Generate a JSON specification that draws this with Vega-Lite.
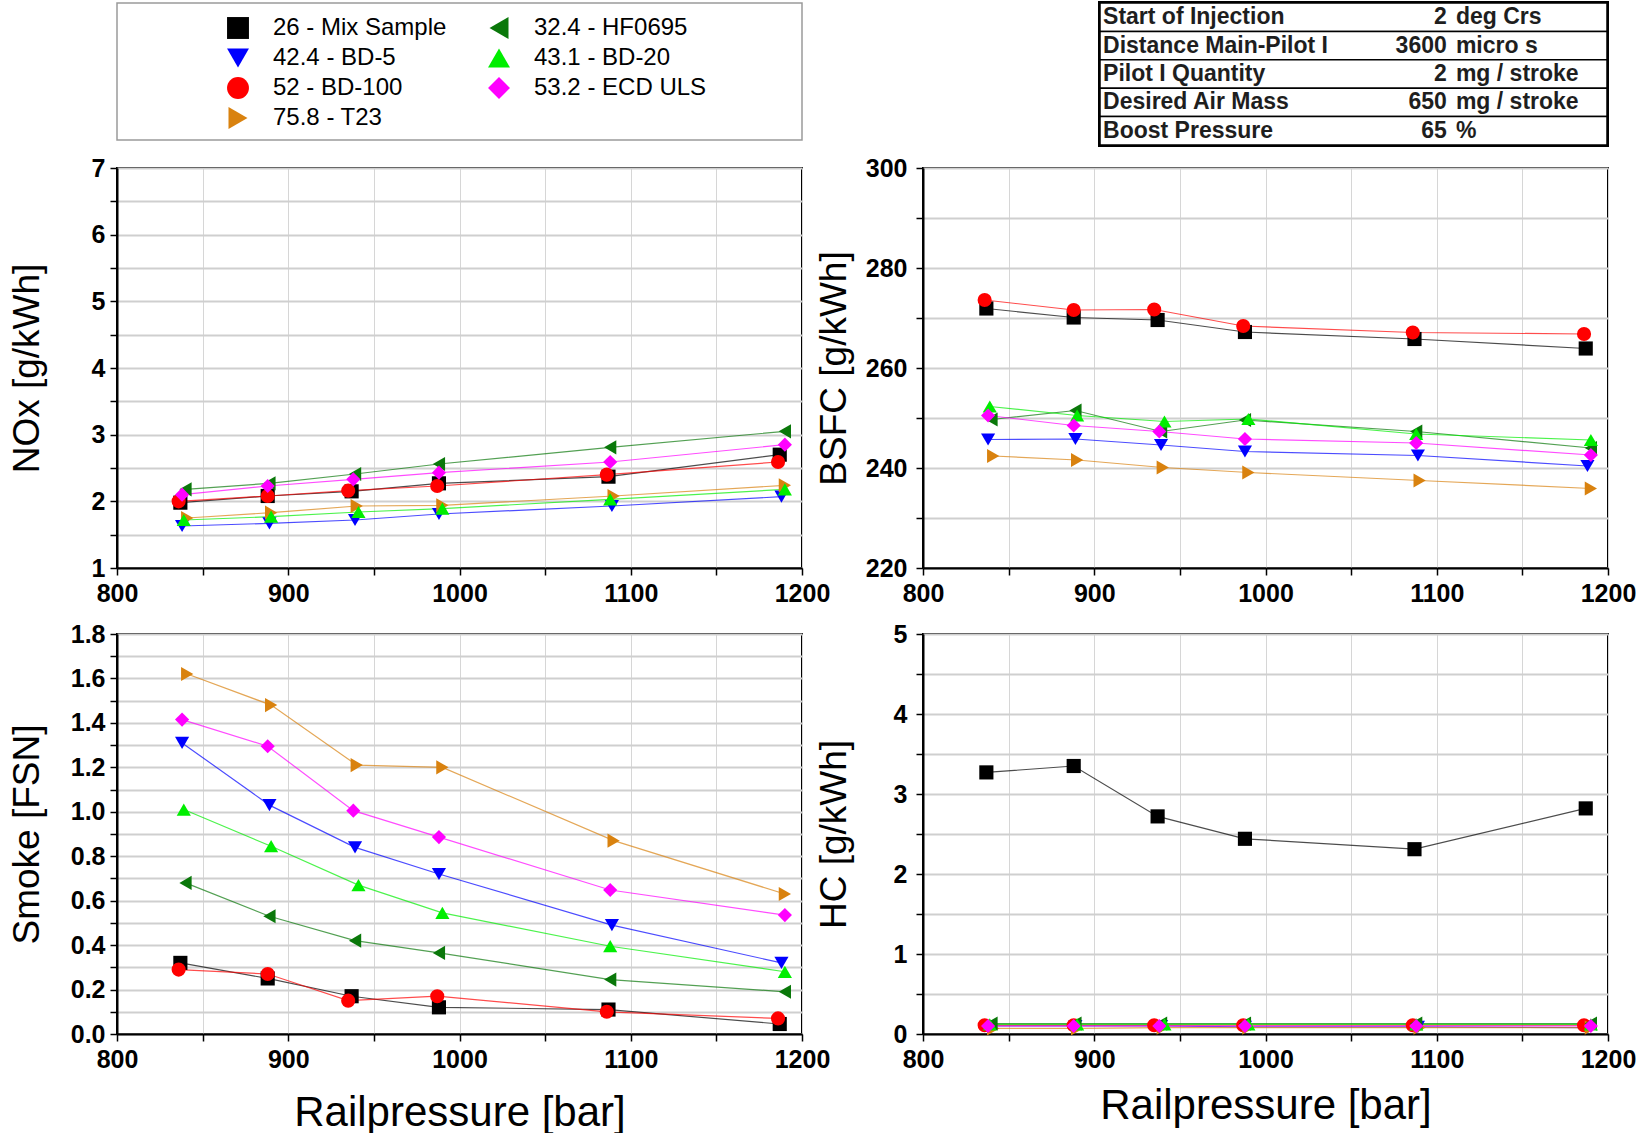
{
  "$schema": "https://vega.github.io/schema/vega-lite/v6.json",
  "padding": {"left": 7, "top": 0, "right": 0, "bottom": 0},
  "autosize": {"type": "pad"},
  "background": "white",
  "datasets": {
    "fuels": [
      {"fuel": "26 - Mix Sample", "p": 837, "NOx": 1.98, "BSFC": 271.9, "Smoke": 0.32, "HC": 3.27},
      {"fuel": "26 - Mix Sample", "p": 888, "NOx": 2.08, "BSFC": 270.1, "Smoke": 0.25, "HC": 3.35},
      {"fuel": "26 - Mix Sample", "p": 937, "NOx": 2.15, "BSFC": 269.6, "Smoke": 0.17, "HC": 2.72},
      {"fuel": "26 - Mix Sample", "p": 988, "NOx": 2.27, "BSFC": 267.2, "Smoke": 0.12, "HC": 2.44},
      {"fuel": "26 - Mix Sample", "p": 1087, "NOx": 2.37, "BSFC": 265.8, "Smoke": 0.11, "HC": 2.31},
      {"fuel": "26 - Mix Sample", "p": 1187, "NOx": 2.70, "BSFC": 263.9, "Smoke": 0.045, "HC": 2.82},
      {"fuel": "42.4 - BD-5", "p": 838, "NOx": 1.63, "BSFC": 245.7, "Smoke": 1.31, "HC": 0.10},
      {"fuel": "42.4 - BD-5", "p": 889, "NOx": 1.67, "BSFC": 245.8, "Smoke": 1.03, "HC": 0.10},
      {"fuel": "42.4 - BD-5", "p": 939, "NOx": 1.72, "BSFC": 244.6, "Smoke": 0.84, "HC": 0.10},
      {"fuel": "42.4 - BD-5", "p": 988, "NOx": 1.81, "BSFC": 243.3, "Smoke": 0.72, "HC": 0.09},
      {"fuel": "42.4 - BD-5", "p": 1089, "NOx": 1.93, "BSFC": 242.5, "Smoke": 0.49, "HC": 0.09},
      {"fuel": "42.4 - BD-5", "p": 1188, "NOx": 2.07, "BSFC": 240.4, "Smoke": 0.32, "HC": 0.08},
      {"fuel": "52 - BD-100", "p": 836, "NOx": 2.00, "BSFC": 273.6, "Smoke": 0.29, "HC": 0.11},
      {"fuel": "52 - BD-100", "p": 888, "NOx": 2.08, "BSFC": 271.6, "Smoke": 0.27, "HC": 0.11},
      {"fuel": "52 - BD-100", "p": 935, "NOx": 2.16, "BSFC": 271.7, "Smoke": 0.15, "HC": 0.11},
      {"fuel": "52 - BD-100", "p": 987, "NOx": 2.23, "BSFC": 268.4, "Smoke": 0.17, "HC": 0.11},
      {"fuel": "52 - BD-100", "p": 1086, "NOx": 2.40, "BSFC": 267.1, "Smoke": 0.10, "HC": 0.11},
      {"fuel": "52 - BD-100", "p": 1186, "NOx": 2.59, "BSFC": 266.8, "Smoke": 0.07, "HC": 0.11},
      {"fuel": "75.8 - T23", "p": 841, "NOx": 1.75, "BSFC": 242.4, "Smoke": 1.62, "HC": 0.07},
      {"fuel": "75.8 - T23", "p": 890, "NOx": 1.83, "BSFC": 241.6, "Smoke": 1.48, "HC": 0.07},
      {"fuel": "75.8 - T23", "p": 940, "NOx": 1.93, "BSFC": 240.1, "Smoke": 1.21, "HC": 0.08},
      {"fuel": "75.8 - T23", "p": 990, "NOx": 1.94, "BSFC": 239.1, "Smoke": 1.20, "HC": 0.08},
      {"fuel": "75.8 - T23", "p": 1090, "NOx": 2.08, "BSFC": 237.5, "Smoke": 0.87, "HC": 0.08},
      {"fuel": "75.8 - T23", "p": 1190, "NOx": 2.24, "BSFC": 235.9, "Smoke": 0.63, "HC": 0.08},
      {"fuel": "32.4 - HF0695", "p": 840, "NOx": 2.18, "BSFC": 249.7, "Smoke": 0.68, "HC": 0.13},
      {"fuel": "32.4 - HF0695", "p": 889, "NOx": 2.27, "BSFC": 251.5, "Smoke": 0.53, "HC": 0.13},
      {"fuel": "32.4 - HF0695", "p": 939, "NOx": 2.41, "BSFC": 247.3, "Smoke": 0.42, "HC": 0.13},
      {"fuel": "32.4 - HF0695", "p": 988, "NOx": 2.56, "BSFC": 249.6, "Smoke": 0.365, "HC": 0.13},
      {"fuel": "32.4 - HF0695", "p": 1088, "NOx": 2.81, "BSFC": 247.3, "Smoke": 0.245, "HC": 0.13},
      {"fuel": "32.4 - HF0695", "p": 1190, "NOx": 3.05, "BSFC": 244.0, "Smoke": 0.19, "HC": 0.13},
      {"fuel": "43.1 - BD-20", "p": 839, "NOx": 1.72, "BSFC": 252.3, "Smoke": 1.01, "HC": 0.12},
      {"fuel": "43.1 - BD-20", "p": 890, "NOx": 1.77, "BSFC": 250.5, "Smoke": 0.845, "HC": 0.12},
      {"fuel": "43.1 - BD-20", "p": 941, "NOx": 1.84, "BSFC": 249.3, "Smoke": 0.67, "HC": 0.12},
      {"fuel": "43.1 - BD-20", "p": 990, "NOx": 1.89, "BSFC": 249.8, "Smoke": 0.545, "HC": 0.12},
      {"fuel": "43.1 - BD-20", "p": 1088, "NOx": 2.03, "BSFC": 246.8, "Smoke": 0.395, "HC": 0.12},
      {"fuel": "43.1 - BD-20", "p": 1190, "NOx": 2.18, "BSFC": 245.6, "Smoke": 0.28, "HC": 0.12},
      {"fuel": "53.2 - ECD ULS", "p": 838, "NOx": 2.10, "BSFC": 250.5, "Smoke": 1.415, "HC": 0.10},
      {"fuel": "53.2 - ECD ULS", "p": 888, "NOx": 2.23, "BSFC": 248.5, "Smoke": 1.295, "HC": 0.10},
      {"fuel": "53.2 - ECD ULS", "p": 938, "NOx": 2.33, "BSFC": 247.3, "Smoke": 1.005, "HC": 0.10},
      {"fuel": "53.2 - ECD ULS", "p": 988, "NOx": 2.43, "BSFC": 245.8, "Smoke": 0.886, "HC": 0.10},
      {"fuel": "53.2 - ECD ULS", "p": 1088, "NOx": 2.59, "BSFC": 245.0, "Smoke": 0.648, "HC": 0.10},
      {"fuel": "53.2 - ECD ULS", "p": 1190, "NOx": 2.85, "BSFC": 242.6, "Smoke": 0.535, "HC": 0.10}
    ],
    "table": [
      {"param": "Start of Injection", "num": "2", "unit": "deg Crs"},
      {"param": "Distance Main-Pilot I", "num": "3600", "unit": "micro s"},
      {"param": "Pilot I Quantity", "num": "2", "unit": "mg / stroke"},
      {"param": "Desired Air Mass", "num": "650", "unit": "mg / stroke"},
      {"param": "Boost Pressure", "num": "65", "unit": "%"}
    ]
  },
  "config": {
    "axis": {
      "labelFont": "Liberation Sans",
      "labelFontWeight": "bold",
      "labelFontSize": 25,
      "labelColor": "black",
      "labelFlush": false,
      "labelOverlap": false,
      "labelBound": false,
      "tickColor": "black",
      "tickWidth": 1.5,
      "tickSize": 7,
      "domainColor": "black",
      "domainWidth": 2,
      "titleFont": "Liberation Sans",
      "titleFontWeight": "normal",
      "titleColor": "black"
    },
    "axisX": {"gridColor": "#d6d6d6", "gridWidth": 1, "labelPadding": 6},
    "axisY": {"gridColor": "#cfcfcf", "gridWidth": 2},
    "legend": {
      "columns": 2,
      "columnPadding": 40,
      "rowPadding": 6,
      "padding": 0,
      "symbolSize": 480,
      "symbolStrokeWidth": 0,
      "symbolOpacity": 1,
      "labelFont": "Liberation Sans",
      "labelFontSize": 24,
      "labelColor": "black",
      "labelOffset": 23,
      "labelLimit": 400
    }
  },
  "resolve": {
    "scale": {"color": "shared", "shape": "shared"},
    "legend": {"color": "shared", "shape": "shared"}
  },
  "spacing": 7,
  "vconcat": [
    {
      "bounds": "flush",
      "spacing": 298,
      "hconcat": [
        {
          "width": 685,
          "height": 137,
          "view": {"stroke": "#9a9a9a", "strokeWidth": 1.5},
          "data": {"values": [{"v": 0}]},
          "mark": {"type": "text", "text": ""},
          "encoding": {
            "y": {
              "field": "v",
              "type": "quantitative",
              "axis": {"title": " ", "titleX": -70.5, "titleFontSize": 37, "labels": false, "ticks": false, "domain": false, "grid": false}
            }
          }
        },
        {
          "width": 507,
          "height": 142,
          "view": {"stroke": "black", "strokeWidth": 4},
          "data": {"name": "table"},
          "encoding": {
            "y": {"field": "param", "type": "nominal", "sort": null, "scale": {"paddingInner": 0, "paddingOuter": 0}, "axis": null}
          },
          "layer": [
            {
              "mark": {"type": "rect", "fill": "white", "stroke": "black", "strokeWidth": 1.5},
              "encoding": {
                "x": {"datum": 0, "type": "quantitative", "scale": {"domain": [0, 100], "nice": false, "zero": false}, "axis": null},
                "x2": {"datum": 100}
              }
            },
            {
              "mark": {"type": "text", "align": "left", "baseline": "middle", "font": "Liberation Sans", "fontWeight": "bold", "fontSize": 23, "color": "#1e1e1e"},
              "encoding": {"x": {"datum": 0.6, "type": "quantitative"}, "text": {"field": "param"}}
            },
            {
              "mark": {"type": "text", "align": "right", "baseline": "middle", "font": "Liberation Sans", "fontWeight": "bold", "fontSize": 23, "color": "#1e1e1e"},
              "encoding": {"x": {"datum": 68.4, "type": "quantitative"}, "text": {"field": "num"}}
            },
            {
              "mark": {"type": "text", "align": "left", "baseline": "middle", "font": "Liberation Sans", "fontWeight": "bold", "fontSize": 23, "color": "#1e1e1e"},
              "encoding": {"x": {"datum": 70.2, "type": "quantitative"}, "text": {"field": "unit"}}
            }
          ]
        }
      ]
    },
    {
      "bounds": "flush",
      "columns": 2,
      "spacing": {"row": 66, "column": 121},
      "concat": [
        {
          "width": 685,
          "height": 400,
          "view": {"stroke": "black", "strokeWidth": 2},
          "data": {"name": "fuels"},
          "encoding": {
            "x": {"field": "p", "type": "quantitative", "scale": {"domain": [800, 1200], "nice": false, "zero": false},
              "axis": {"title": null, "values": [800, 850, 900, 950, 1000, 1050, 1100, 1150, 1200], "labelExpr": "datum.value % 100 == 0 ? format(datum.value, 'd') : ''"}},
            "y": {"field": "NOx", "type": "quantitative", "scale": {"domain": [1, 7], "nice": false, "zero": false},
              "axis": {"title": "NOx [g/kWh]", "titleFontSize": 37, "titleX": -70.5, "labelPadding": 5,
                "values": [1, 1.5, 2, 2.5, 3, 3.5, 4, 4.5, 5, 5.5, 6, 6.5, 7], "labelExpr": "datum.value % 1 == 0 ? format(datum.value, 'd') : ''"}},
            "color": {"field": "fuel", "type": "nominal",
              "scale": {"domain": ["26 - Mix Sample", "42.4 - BD-5", "52 - BD-100", "75.8 - T23", "32.4 - HF0695", "43.1 - BD-20", "53.2 - ECD ULS"],
                "range": ["#000000", "#0000ff", "#ff0000", "#d9820f", "#0a780a", "#00ee00", "#ff00ff"]},
              "legend": {"title": null, "orient": "none", "legendX": 109, "legendY": 13}}
          },
          "layer": [
            {"mark": {"type": "line", "strokeWidth": 1.2, "opacity": 0.7}, "encoding": {}},
            {"mark": {"type": "point", "filled": true, "size": 200, "opacity": 1},
              "encoding": {"shape": {"field": "fuel", "type": "nominal",
                "scale": {"domain": ["26 - Mix Sample", "42.4 - BD-5", "52 - BD-100", "75.8 - T23", "32.4 - HF0695", "43.1 - BD-20", "53.2 - ECD ULS"],
                  "range": ["square", "triangle-down", "circle", "triangle-right", "triangle-left", "triangle-up", "diamond"]},
                "legend": {"title": null, "orient": "none", "legendX": 109, "legendY": 13}}}}
          ]
        },
        {
          "width": 685,
          "height": 400,
          "view": {"stroke": "black", "strokeWidth": 2},
          "data": {"name": "fuels"},
          "encoding": {
            "x": {"field": "p", "type": "quantitative", "scale": {"domain": [800, 1200], "nice": false, "zero": false},
              "axis": {"title": null, "values": [800, 850, 900, 950, 1000, 1050, 1100, 1150, 1200], "labelExpr": "datum.value % 100 == 0 ? format(datum.value, 'd') : ''"}},
            "y": {"field": "BSFC", "type": "quantitative", "scale": {"domain": [220, 300], "nice": false, "zero": false},
              "axis": {"title": "BSFC [g/kWh]", "titleFontSize": 37, "titleX": -70, "labelPadding": 9,
                "values": [220, 230, 240, 250, 260, 270, 280, 290, 300], "labelExpr": "datum.value % 20 == 0 ? format(datum.value, 'd') : ''"}},
            "color": {"field": "fuel", "type": "nominal",
              "scale": {"domain": ["26 - Mix Sample", "42.4 - BD-5", "52 - BD-100", "75.8 - T23", "32.4 - HF0695", "43.1 - BD-20", "53.2 - ECD ULS"],
                "range": ["#000000", "#0000ff", "#ff0000", "#d9820f", "#0a780a", "#00ee00", "#ff00ff"]},
              "legend": {"title": null, "orient": "none", "legendX": 109, "legendY": 13}}
          },
          "layer": [
            {"mark": {"type": "line", "strokeWidth": 1.2, "opacity": 0.7}, "encoding": {}},
            {"mark": {"type": "point", "filled": true, "size": 200, "opacity": 1},
              "encoding": {"shape": {"field": "fuel", "type": "nominal",
                "scale": {"domain": ["26 - Mix Sample", "42.4 - BD-5", "52 - BD-100", "75.8 - T23", "32.4 - HF0695", "43.1 - BD-20", "53.2 - ECD ULS"],
                  "range": ["square", "triangle-down", "circle", "triangle-right", "triangle-left", "triangle-up", "diamond"]},
                "legend": {"title": null, "orient": "none", "legendX": 109, "legendY": 13}}}}
          ]
        },
        {
          "width": 685,
          "height": 400,
          "view": {"stroke": "black", "strokeWidth": 2},
          "data": {"name": "fuels"},
          "encoding": {
            "x": {"field": "p", "type": "quantitative", "scale": {"domain": [800, 1200], "nice": false, "zero": false},
              "axis": {"title": "Railpressure [bar]", "titleFontSize": 42, "titleBaseline": "middle", "titleY": 78,
                "values": [800, 850, 900, 950, 1000, 1050, 1100, 1150, 1200], "labelExpr": "datum.value % 100 == 0 ? format(datum.value, 'd') : ''"}},
            "y": {"field": "Smoke", "type": "quantitative", "scale": {"domain": [0, 1.8], "nice": false, "zero": false},
              "axis": {"title": "Smoke [FSN]", "titleFontSize": 37, "titleX": -70.5, "labelPadding": 5,
                "values": [0, 0.1, 0.2, 0.3, 0.4, 0.5, 0.6, 0.7, 0.8, 0.9, 1.0, 1.1, 1.2, 1.3, 1.4, 1.5, 1.6, 1.7, 1.8],
                "labelExpr": "round(datum.value * 10) % 2 == 0 ? format(datum.value, '.1f') : ''"}},
            "color": {"field": "fuel", "type": "nominal",
              "scale": {"domain": ["26 - Mix Sample", "42.4 - BD-5", "52 - BD-100", "75.8 - T23", "32.4 - HF0695", "43.1 - BD-20", "53.2 - ECD ULS"],
                "range": ["#000000", "#0000ff", "#ff0000", "#d9820f", "#0a780a", "#00ee00", "#ff00ff"]},
              "legend": {"title": null, "orient": "none", "legendX": 109, "legendY": 13}}
          },
          "layer": [
            {"mark": {"type": "line", "strokeWidth": 1.2, "opacity": 0.7}, "encoding": {}},
            {"mark": {"type": "point", "filled": true, "size": 200, "opacity": 1},
              "encoding": {"shape": {"field": "fuel", "type": "nominal",
                "scale": {"domain": ["26 - Mix Sample", "42.4 - BD-5", "52 - BD-100", "75.8 - T23", "32.4 - HF0695", "43.1 - BD-20", "53.2 - ECD ULS"],
                  "range": ["square", "triangle-down", "circle", "triangle-right", "triangle-left", "triangle-up", "diamond"]},
                "legend": {"title": null, "orient": "none", "legendX": 109, "legendY": 13}}}}
          ]
        },
        {
          "width": 685,
          "height": 400,
          "view": {"stroke": "black", "strokeWidth": 2},
          "data": {"name": "fuels"},
          "encoding": {
            "x": {"field": "p", "type": "quantitative", "scale": {"domain": [800, 1200], "nice": false, "zero": false},
              "axis": {"title": "Railpressure [bar]", "titleFontSize": 42, "titleBaseline": "middle", "titleY": 71,
                "values": [800, 850, 900, 950, 1000, 1050, 1100, 1150, 1200], "labelExpr": "datum.value % 100 == 0 ? format(datum.value, 'd') : ''"}},
            "y": {"field": "HC", "type": "quantitative", "scale": {"domain": [0, 5], "nice": false, "zero": false},
              "axis": {"title": "HC [g/kWh]", "titleFontSize": 37, "titleX": -70, "labelPadding": 9,
                "values": [0, 0.5, 1, 1.5, 2, 2.5, 3, 3.5, 4, 4.5, 5], "labelExpr": "datum.value % 1 == 0 ? format(datum.value, 'd') : ''"}},
            "color": {"field": "fuel", "type": "nominal",
              "scale": {"domain": ["26 - Mix Sample", "42.4 - BD-5", "52 - BD-100", "75.8 - T23", "32.4 - HF0695", "43.1 - BD-20", "53.2 - ECD ULS"],
                "range": ["#000000", "#0000ff", "#ff0000", "#d9820f", "#0a780a", "#00ee00", "#ff00ff"]},
              "legend": {"title": null, "orient": "none", "legendX": 109, "legendY": 13}}
          },
          "layer": [
            {"mark": {"type": "line", "strokeWidth": 1.2, "opacity": 0.7}, "encoding": {}},
            {"mark": {"type": "point", "filled": true, "size": 200, "opacity": 1},
              "encoding": {"shape": {"field": "fuel", "type": "nominal",
                "scale": {"domain": ["26 - Mix Sample", "42.4 - BD-5", "52 - BD-100", "75.8 - T23", "32.4 - HF0695", "43.1 - BD-20", "53.2 - ECD ULS"],
                  "range": ["square", "triangle-down", "circle", "triangle-right", "triangle-left", "triangle-up", "diamond"]},
                "legend": {"title": null, "orient": "none", "legendX": 109, "legendY": 13}}}}
          ]
        }
      ]
    }
  ]
}
